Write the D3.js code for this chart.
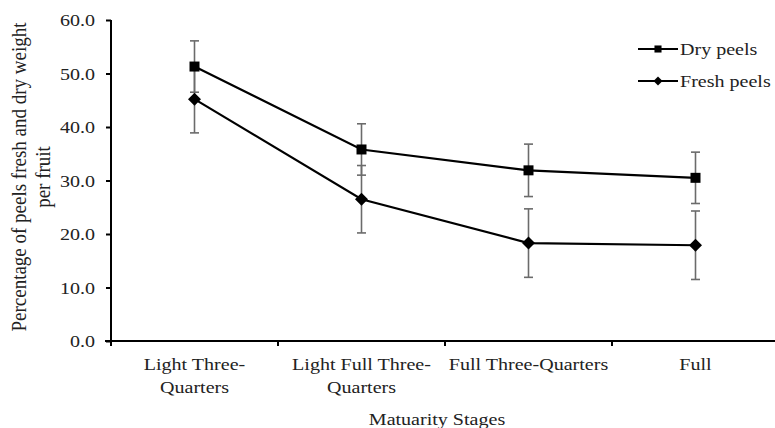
<!DOCTYPE html>
<html>
<head>
<meta charset="utf-8">
<script src="https://cdn.jsdelivr.net/npm/d3@7"></script>
<style>
  html, body { margin: 0; padding: 0; background: #fff; }
  svg { display: block; }
  text { font-family: "Liberation Serif", "Times New Roman", serif; fill: #222; }
</style>
</head>
<body>
<svg id="chart" width="775" height="428"></svg>
<script>
// Maturity stages (category labels split into lines)
const stages = ["Light Three-Quarters", "Light Full Three-Quarters", "Full Three-Quarters", "Full"];
const stageLines = [["Light Three-", "Quarters"], ["Light Full Three-", "Quarters"], ["Full Three-Quarters"], ["Full"]];

// Series means and error (±) per stage
const dryPeels = [51.3, 35.8, 31.9, 30.5];
const dryErr = [4.8, 4.8, 4.9, 4.8];
const freshPeels = [45.2, 26.5, 18.3, 17.9];
const freshErr = [6.3, 6.3, 6.4, 6.4];

const yTicks = [0, 10, 20, 30, 40, 50, 60];

const svg = d3.select("#chart");
const plotLeft = 111, plotTop = 20, plotBottom = 341, plotRight = 779;
const sx = 1.18; // horizontal text stretch

const x = d3.scaleBand().domain(stages).range([plotLeft, plotRight]).padding(0);
const y = d3.scaleLinear().domain([0, 60]).range([plotBottom, plotTop]);
const cx = d => x(d) + x.bandwidth() / 2;

// stretched text helper
function stext(g, tx, ty, str, anchor, size) {
  return g.append("text")
    .attr("transform", `translate(${tx},${ty}) scale(${sx},1)`)
    .attr("text-anchor", anchor)
    .attr("font-size", size)
    .text(str);
}

// Y axis
const yAxis = svg.append("g").attr("transform", `translate(${plotLeft},0)`)
  .call(d3.axisLeft(y).tickValues(yTicks).tickSize(5).tickFormat(""));
yAxis.select(".domain").attr("stroke", "#000").attr("stroke-width", 2).attr("d", `M0,${plotTop}V${plotBottom}`);
yAxis.selectAll(".tick line").attr("stroke", "#000").attr("stroke-width", 2);
yTicks.forEach(v => stext(svg, 95, y(v) + 6, d3.format(".1f")(v), "end", 17));

// X axis
const xAxis = svg.append("g").attr("transform", `translate(0,${plotBottom})`)
  .call(d3.axisBottom(x).tickSize(0).tickFormat(""));
xAxis.select(".domain").attr("stroke", "#000").attr("stroke-width", 2).attr("d", `M${plotLeft - 6},0H${plotRight}`);
// band boundary ticks
svg.append("g").selectAll("line").data(stages).join("line")
  .attr("x1", d => x(d)).attr("x2", d => x(d))
  .attr("y1", plotBottom).attr("y2", plotBottom + 5)
  .attr("stroke", "#000").attr("stroke-width", 2);

stages.forEach((s, i) => {
  stageLines[i].forEach((ln, j) => stext(svg, cx(s), 370 + j * 23, ln, "middle", 17));
});

// Axis titles
stext(svg, 437, 425, "Matuarity Stages", "middle", 17);
const yt = svg.append("text").attr("transform", "translate(26,177) rotate(-90) scale(1,1.15)")
  .attr("text-anchor", "middle").attr("font-size", 19);
yt.append("tspan").attr("x", 0).attr("dy", 0).text("Percentage of peels fresh and dry weight");
yt.append("tspan").attr("x", 0).attr("dy", 20.5).text("per fruit");

// Error bars
function errorBars(vals, errs) {
  const g = svg.append("g").attr("stroke", "#6b6b6b").attr("stroke-width", 1.6);
  stages.forEach((s, i) => {
    const px = cx(s), hi = y(vals[i] + errs[i]), lo = y(vals[i] - errs[i]);
    g.append("line").attr("x1", px).attr("x2", px).attr("y1", hi).attr("y2", lo);
    g.append("line").attr("x1", px - 4.5).attr("x2", px + 4.5).attr("y1", hi).attr("y2", hi);
    g.append("line").attr("x1", px - 4.5).attr("x2", px + 4.5).attr("y1", lo).attr("y2", lo);
  });
}
errorBars(dryPeels, dryErr);
errorBars(freshPeels, freshErr);

// Lines
const line = d3.line().x((d, i) => cx(stages[i])).y(d => y(d));
[dryPeels, freshPeels].forEach(vals => {
  svg.append("path").datum(vals).attr("d", line)
    .attr("fill", "none").attr("stroke", "#000").attr("stroke-width", 2.2);
});

// Markers
const sq = d3.symbol().type(d3.symbolSquare).size(100);
const dia = d3.symbol().type(d3.symbolSquare).size(85);
svg.append("g").selectAll("path").data(dryPeels).join("path")
  .attr("d", sq).attr("fill", "#000")
  .attr("transform", (d, i) => `translate(${cx(stages[i])},${y(d)})`);
svg.append("g").selectAll("path").data(freshPeels).join("path")
  .attr("d", dia).attr("fill", "#000")
  .attr("transform", (d, i) => `translate(${cx(stages[i])},${y(d)}) rotate(45)`);

// Legend
const legend = [
  { name: "Dry peels", sym: d3.symbol().type(d3.symbolSquare).size(50), rot: 0, y: 49 },
  { name: "Fresh peels", sym: d3.symbol().type(d3.symbolSquare).size(40), rot: 45, y: 81 }
];
legend.forEach(l => {
  svg.append("line").attr("x1", 638).attr("x2", 678).attr("y1", l.y).attr("y2", l.y)
    .attr("stroke", "#000").attr("stroke-width", 2.2);
  svg.append("path").attr("d", l.sym).attr("fill", "#000")
    .attr("transform", `translate(658,${l.y}) rotate(${l.rot})`);
  stext(svg, 680, l.y + 6, l.name, "start", 17);
});
</script>
</body>
</html>
